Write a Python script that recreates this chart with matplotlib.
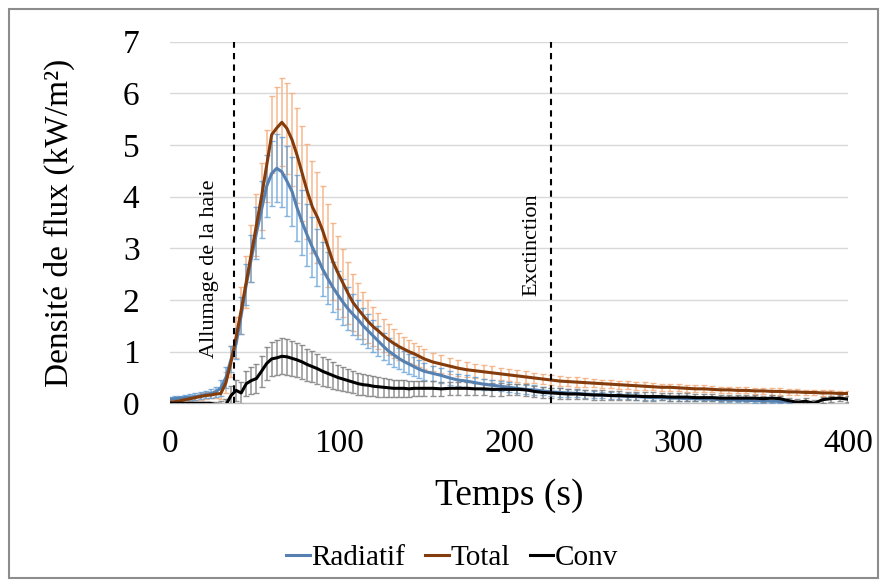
import numpy as np
import matplotlib
matplotlib.use("Agg")
import matplotlib.pyplot as plt
from matplotlib.patches import Rectangle

nan = np.nan
# time axis (s)
t = list(range(0, 151, 3)) + list(range(155, 401, 5))

total = [0.02, 0.03, 0.05, 0.07, 0.09, 0.11, 0.13, 0.15, 0.16, 0.18,
         0.19, 0.4, 0.8, 1.28, 1.8, 2.35, 2.9, 3.45, 4.0, 4.6,
         5.2, 5.33, 5.44, 5.32, 5.1, 4.8, 4.45, 4.1, 3.8, 3.6,
         3.35, 3.05, 2.75, 2.53, 2.33, 2.13, 1.95, 1.82, 1.7, 1.58,
         1.48, 1.4, 1.31, 1.23, 1.16, 1.1, 1.05, 1.0, 0.96, 0.91,
         0.86,
         0.8, 0.76, 0.72, 0.68, 0.65, 0.63, 0.61, 0.59, 0.57, 0.55,
         0.53, 0.51, 0.49, 0.47, 0.45, 0.43, 0.42, 0.41, 0.4, 0.39,
         0.38, 0.37, 0.36, 0.35, 0.34, 0.33, 0.32, 0.31, 0.31, 0.3,
         0.29, 0.28, 0.28, 0.27, 0.26, 0.26, 0.25, 0.25, 0.24, 0.24,
         0.23, 0.23, 0.22, 0.22, 0.21, 0.21, 0.2, 0.2, 0.19, 0.19]
total_err = [0.04, 0.04, 0.05, 0.05, 0.05, 0.05, 0.06, 0.06, 0.06, 0.07,
             0.1, 0.2, 0.3, 0.4, 0.45, 0.5, 0.55, 0.6, 0.65, 0.7,
             0.75, 0.8, 0.85, 0.88, 0.9, 0.92, 0.92, 0.92, 0.9, 0.88,
             0.85, 0.8, 0.75, 0.7, 0.65, 0.6, 0.55, 0.5, 0.46, 0.42,
             0.38, 0.35, 0.32, 0.3, 0.28, 0.26, 0.24, 0.22, 0.21, 0.2,
             0.19,
             0.18, 0.17, 0.16, 0.15, 0.14, 0.14, 0.13, 0.13, 0.12, 0.12,
             0.11, 0.11, 0.1, 0.1, 0.1, 0.09, 0.09, 0.09, 0.09, 0.08,
             0.08, 0.08, 0.08, 0.08, 0.08, 0.08, 0.07, 0.07, 0.07, 0.07,
             0.07, 0.07, 0.07, 0.06, 0.06, 0.06, 0.06, 0.06, 0.06, 0.06,
             0.06, 0.06, 0.05, 0.05, 0.05, 0.05, 0.05, 0.05, 0.05, 0.05]

radiatif = [0.08, 0.09, 0.1, 0.11, 0.12, 0.13, 0.15, 0.17, 0.19, 0.22,
            0.3, 0.5, 0.85, 1.15, 1.7, 2.3, 2.8, 3.3, 3.75, 4.2,
            4.45, 4.55, 4.48, 4.3, 4.1, 3.78, 3.5, 3.25, 3.02, 2.82,
            2.6, 2.42, 2.25, 2.1, 1.96, 1.83, 1.72, 1.62, 1.5, 1.4,
            1.3, 1.2, 1.1, 1.01, 0.94, 0.87, 0.81, 0.76, 0.71, 0.66,
            0.62,
            0.58, 0.54, 0.49, 0.45, 0.43, 0.4, 0.37, 0.35, 0.33, 0.31,
            0.29, 0.27, 0.26, 0.24, 0.22, 0.21, 0.2, 0.19, 0.18, 0.17,
            0.16, 0.15, 0.14, 0.14, 0.13, 0.12, 0.11, 0.11, 0.1, 0.1,
            0.09, 0.09, 0.08, 0.08, 0.07, 0.07, 0.06, 0.06, 0.05, 0.05,
            0.04, 0.04, 0.03, nan, nan, nan, nan, nan, nan, nan]
radiatif_err = [0.05, 0.05, 0.05, 0.05, 0.06, 0.06, 0.06, 0.07, 0.08, 0.1,
                0.15, 0.2, 0.25, 0.3, 0.35, 0.4, 0.45, 0.5, 0.55, 0.6,
                0.63, 0.66, 0.68, 0.68, 0.66, 0.64, 0.62, 0.6, 0.58, 0.55,
                0.52, 0.5, 0.48, 0.46, 0.44, 0.42, 0.4, 0.38, 0.35, 0.33,
                0.31, 0.29, 0.27, 0.25, 0.23, 0.21, 0.2, 0.19, 0.18, 0.17,
                0.16,
                0.15, 0.14, 0.13, 0.12, 0.12, 0.11, 0.11, 0.1, 0.1, 0.1,
                0.09, 0.09, 0.09, 0.08, 0.08, 0.08, 0.07, 0.07, 0.07, 0.07,
                0.06, 0.06, 0.06, 0.06, 0.06, 0.05, 0.05, 0.05, 0.05, 0.05,
                0.05, 0.04, 0.04, 0.04, 0.04, 0.04, 0.04, 0.04, 0.04, 0.04,
                0.03, 0.03, 0.03, nan, nan, nan, nan, nan, nan, nan]

conv = [0.0, 0.0, 0.0, 0.0, 0.0, 0.0, 0.0, 0.0, 0.0, -0.03,
        -0.03, -0.03, 0.15, 0.25, 0.2, 0.38, 0.44, 0.48, 0.62, 0.77,
        0.86, 0.88, 0.91, 0.9, 0.87, 0.84, 0.8, 0.75, 0.71, 0.67,
        0.62, 0.58, 0.54, 0.5, 0.47, 0.44, 0.41, 0.38, 0.36, 0.35,
        0.33, 0.32, 0.31, 0.3, 0.29, 0.29, 0.29, 0.28, 0.29, 0.29,
        0.29,
        0.29, 0.28, 0.29, 0.29, 0.29, 0.28, 0.28, 0.27, 0.27, 0.27,
        0.27, 0.26, 0.23, 0.21, 0.2, 0.19, 0.18, 0.18, 0.17, 0.16,
        0.16, 0.15, 0.15, 0.14, 0.14, 0.13, 0.13, 0.13, 0.12, 0.12,
        0.12, 0.11, 0.11, 0.11, 0.1, 0.1, 0.1, 0.1, 0.1, 0.09,
        0.1, 0.09, 0.05, 0.02, 0.04, 0.0, 0.07, 0.09, 0.1, 0.08]
conv_err = [0.02, 0.02, 0.02, 0.02, 0.02, 0.02, 0.02, 0.03, 0.03, 0.05,
            0.08, 0.12, 0.18, 0.2, 0.22, 0.24, 0.26, 0.28, 0.3, 0.32,
            0.33, 0.34, 0.35, 0.35, 0.34, 0.33, 0.32, 0.31, 0.3, 0.29,
            0.28, 0.27, 0.26, 0.25, 0.24, 0.23, 0.22, 0.21, 0.2, 0.2,
            0.19, 0.19, 0.18, 0.18, 0.17, 0.17, 0.16, 0.16, 0.15, 0.15,
            0.15,
            0.14, 0.14, 0.13, 0.13, 0.13, 0.12, 0.12, 0.12, 0.12, 0.11,
            0.11, 0.11, 0.1, 0.1, 0.1, 0.1, 0.09, 0.09, 0.09, 0.09,
            0.09, 0.08, 0.08, 0.08, 0.08, 0.08, 0.08, 0.07, 0.07, 0.07,
            0.07, 0.07, 0.07, 0.07, 0.06, 0.06, 0.06, 0.06, 0.06, 0.06,
            0.06, 0.06, 0.06, 0.06, 0.06, 0.06, 0.06, 0.06, 0.06, 0.06]

events_t = [37.8, 224.8]
events_label = ["Allumage de la haie", "Exctinction"]
events_label_x = [23.5, 213.5]
events_label_y = [0.88, 2.08]

plt.rcParams['font.family'] = ['Liberation Serif', 'DejaVu Serif']

fig = plt.figure(figsize=(8.8, 5.81), dpi=100)
ax = fig.add_axes([170/880, 1-403.3/581, (848-170)/880, (403.3-41.7)/581])

tt = np.array(t, dtype=float)
cap = 2.2
ax.errorbar(tt, total, yerr=total_err, fmt='none', ecolor='#F4B183', elinewidth=1.1,
            capsize=cap, capthick=1.0, alpha=0.9, zorder=2)
ax.errorbar(tt, radiatif, yerr=radiatif_err, fmt='none', ecolor='#5B9BD5', elinewidth=1.1,
            capsize=cap, capthick=1.0, alpha=0.75, zorder=3)
ax.errorbar(tt, conv, yerr=conv_err, fmt='none', ecolor='#808080', elinewidth=1.1,
            capsize=cap, capthick=1.0, alpha=0.85, zorder=3)

ax.plot(tt, radiatif, color='#5580B0', lw=2.2, label='Radiatif', zorder=5)
ax.plot(tt, total, color='#843C0C', lw=2.2, label='Total', zorder=6)
ax.plot(tt, conv, color='black', lw=2.2, label='Conv', zorder=7)

for x, lab, lx, ly in zip(events_t, events_label, events_label_x, events_label_y):
    ax.axvline(x, color='black', ls=(0, (3, 2.5)), lw=1.5, zorder=8)
    ax.text(lx, ly, lab, rotation=90, ha='center', va='bottom', fontsize=16, zorder=9)

ax.set_xlim(0, 400)
ax.set_ylim(0, 7)
ax.set_xticks([0, 100, 200, 300, 400])
ax.set_yticks(range(0, 8))
ax.grid(axis='y', color='#D9D9D9', lw=1.0, zorder=0)
ax.set_axisbelow(True)
for s in ['top', 'right', 'left']:
    ax.spines[s].set_visible(False)
ax.spines['bottom'].set_color('#BFBFBF')
ax.spines['bottom'].set_linewidth(1.0)
ax.tick_params(axis='both', length=0, labelsize=24)
ax.tick_params(axis='x', pad=18)
ax.tick_params(axis='y', pad=22)
ax.set_xlabel('Temps (s)', fontsize=27, labelpad=14)
ax.set_ylabel('Densité de flux (kW/m²)', fontsize=24, labelpad=34)

fig.legend(loc='center', bbox_to_anchor=(0.514, 1-558/581), ncol=3, frameon=False,
           fontsize=21, handlelength=0.8, handletextpad=0.05, columnspacing=0.7)

fig.patches.append(Rectangle((9/880, 3/581), 869/880, 569/581, transform=fig.transFigure,
                             fill=False, edgecolor='#8C8C8C', lw=1.5))

fig.savefig('out.png', dpi=100)
